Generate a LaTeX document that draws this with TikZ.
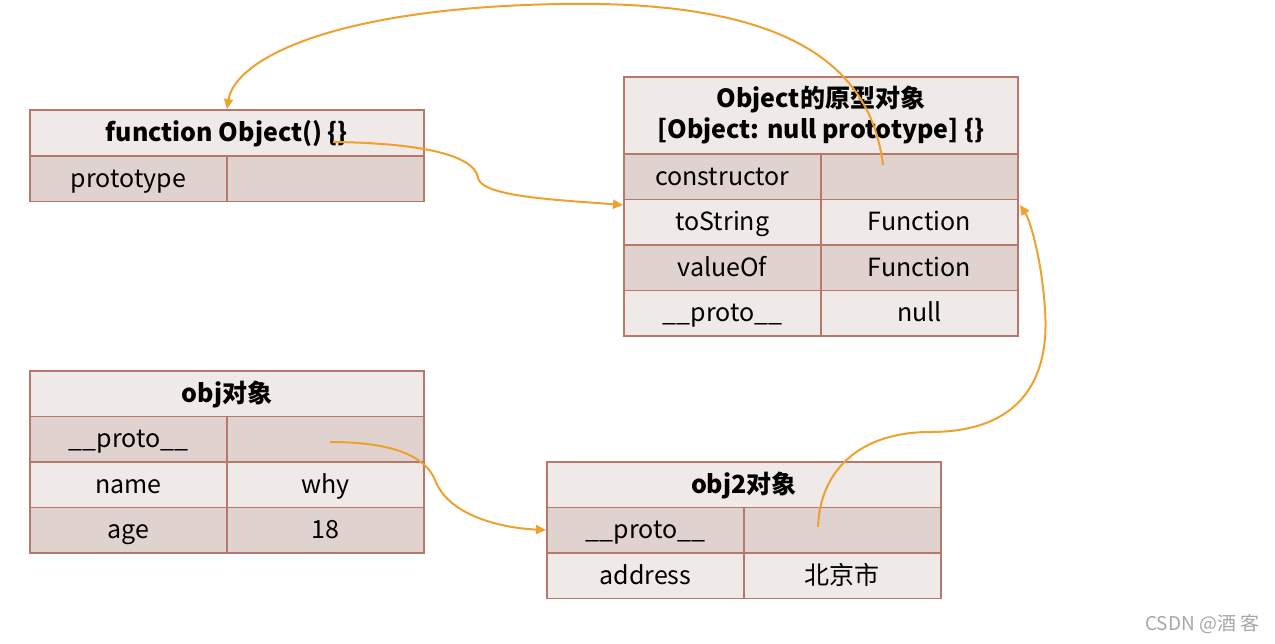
\documentclass[tikz,border=0pt]{standalone}
\usepackage{fontspec}
\setmainfont{Noto Sans CJK SC}
\usetikzlibrary{arrows.meta}

\definecolor{cellline}{HTML}{B5786A}
\definecolor{lightrow}{HTML}{EFE9E7}
\definecolor{darkrow}{HTML}{E0D3CF}
\definecolor{linkcol}{HTML}{EFA12E}

\tikzset{
  cell/.style={draw=cellline, line width=1.8pt, anchor=north west, inner sep=0pt,
    minimum width=197pt, minimum height=45.5pt, text height=20pt, text depth=3pt,
    font=\fontsize{25}{29}\selectfont},
  hdr/.style={cell, fill=lightrow, minimum width=394pt, font=\fontsize{25}{31}\selectfont\bfseries},
  light/.style={cell, fill=lightrow},
  dark/.style={cell, fill=darkrow},
  link/.style={draw=linkcol, line width=2pt, -{Triangle[length=10pt,width=9pt]}},
}

\begin{document}
\begin{tikzpicture}[x=1pt, y=-1pt]
  \useasboundingbox (0,0) rectangle (1275,643);

  % function Object
  \node[hdr] (fn) at (29,109) {function Object() \{\}};
  \node[dark] (fnkey) at (29,155) {prototype};
  \node[dark] (fnval) at (226,155) {};

  % prototype object
  \node[hdr, minimum height=77pt, align=center, text height=, text depth=] (pr) at (623,76)
    {Object的原型对象\\{[}Object: null prototype{]} \{\}};
  \node[dark] (prk1) at (623,153) {constructor};
  \node[dark] (prv1) at (820,153) {};
  \node[light] (prk2) at (623,198.5) {toString};
  \node[light] (prv2) at (820,198.5) {Function};
  \node[dark] (prk3) at (623,244) {valueOf};
  \node[dark] (prv3) at (820,244) {Function};
  \node[light] (prk4) at (623,289.5) {\_\_proto\_\_};
  \node[light] (prv4) at (820,289.5) {null};

  % obj
  \node[hdr] (ob) at (29,370) {obj对象};
  \node[dark] (obk1) at (29,415.5) {\_\_proto\_\_};
  \node[dark] (obv1) at (226,415.5) {};
  \node[light] (obk2) at (29,461) {name};
  \node[light] (obv2) at (226,461) {why};
  \node[dark] (obk3) at (29,506.5) {age};
  \node[dark] (obv3) at (226,506.5) {18};

  % obj2
  \node[hdr] (ot) at (546,461) {obj2对象};
  \node[dark] (otk1) at (546,506.5) {\_\_proto\_\_};
  \node[dark] (otv1) at (743,506.5) {};
  \node[light] (otk2) at (546,552) {address};
  \node[light] (otv2) at (743,552) {北京市};

  % link ends
  \coordinate (fnbrace) at (333,142);
  \coordinate (prin) at (prk2.north west |- 0,205);
  \coordinate (ctor) at (883,165);
  \coordinate (fntop) at (fn.north -| 227,0);
  \coordinate (obproto) at (330,442);
  \coordinate (otin) at (otk1.west |- 0,530);
  \coordinate (otproto) at (818,527);
  \coordinate (prright) at (1020,205);

  \draw[link] (fnbrace) .. controls (420,143) and (475,155) .. (478,178)
    .. controls (482,197) and (560,200) .. (prin);
  \draw[link] (ctor) .. controls (870,60) and (780,0) .. (560,4)
    .. controls (330,8) and (235,60) .. (fntop);
  \draw[link] (obproto) .. controls (390,442) and (425,455) .. (435,480)
    .. controls (448,515) and (500,528) .. (otin);
  \draw[link] (otproto) .. controls (820,470) and (860,432) .. (930,432)
    .. controls (1020,432) and (1050,380) .. (1045,310)
    .. controls (1042,260) and (1030,220) .. (prright);

  \node[anchor=east, text=gray!70, font=\fontsize{19}{21}\selectfont] (mark) at (1263,624) {CSDN @酒 客};
\end{tikzpicture}
\end{document}
